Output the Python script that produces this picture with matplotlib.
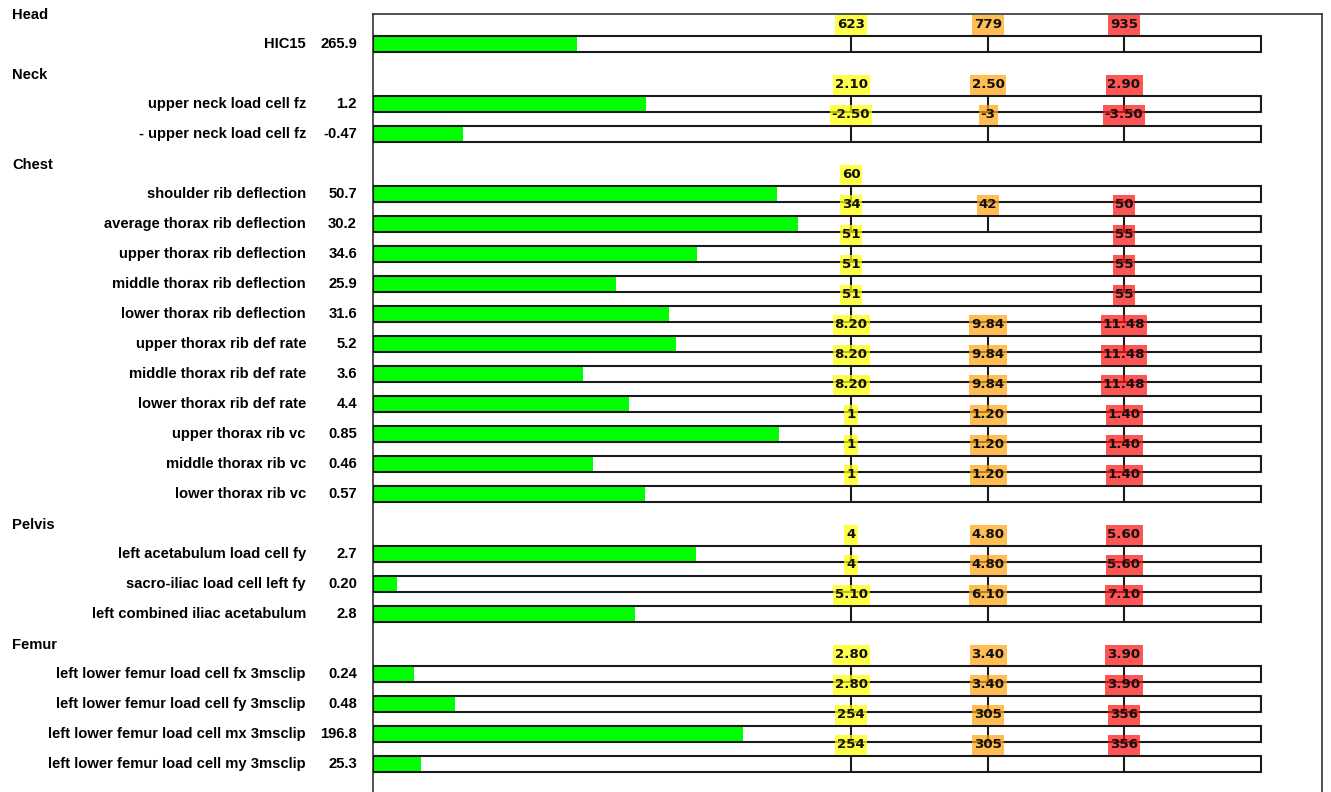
import matplotlib
matplotlib.use("Agg")
import matplotlib.pyplot as plt
import numpy as np
from matplotlib.transforms import blended_transform_factory
from matplotlib.patches import Rectangle

# ---------------- data ----------------
sections = ["Head", "Neck", "Chest", "Pelvis", "Femur"]
row_section = [0, 1, 1, 2, 2, 2, 2, 2, 2, 2, 2, 2, 2, 2, 3, 3, 3, 4, 4, 4, 4]
names = [
    "HIC15",
    "upper neck load cell fz",
    "- upper neck load cell fz",
    "shoulder rib deflection",
    "average thorax rib deflection",
    "upper thorax rib deflection",
    "middle thorax rib deflection",
    "lower thorax rib deflection",
    "upper thorax rib def rate",
    "middle thorax rib def rate",
    "lower thorax rib def rate",
    "upper thorax rib vc",
    "middle thorax rib vc",
    "lower thorax rib vc",
    "left acetabulum load cell fy",
    "sacro-iliac load cell left fy",
    "left combined iliac acetabulum",
    "left lower femur load cell fx 3msclip",
    "left lower femur load cell fy 3msclip",
    "left lower femur load cell mx 3msclip",
    "left lower femur load cell my 3msclip",
]
value_labels = ["265.9", "1.2", "-0.47", "50.7", "30.2", "34.6", "25.9", "31.6",
                "5.2", "3.6", "4.4", "0.85", "0.46", "0.57", "2.7", "0.20", "2.8",
                "0.24", "0.48", "196.8", "25.3"]
yellow_labels = ["623", "2.10", "-2.50", "60", "34", "51", "51", "51", "8.20", "8.20",
                 "8.20", "1", "1", "1", "4", "4", "5.10", "2.80", "2.80", "254", "254"]
orange_labels = ["779", "2.50", "-3", None, "42", None, None, None, "9.84", "9.84",
                 "9.84", "1.20", "1.20", "1.20", "4.80", "4.80", "6.10", "3.40", "3.40",
                 "305", "305"]
red_labels = ["935", "2.90", "-3.50", None, "50", "55", "55", "55", "11.48", "11.48",
              "11.48", "1.40", "1.40", "1.40", "5.60", "5.60", "7.10", "3.90", "3.90",
              "356", "356"]

# ---------------- layout / style ----------------
W, H, DPI = 1331, 792, 100
ax_left_px, ax_right_px, ax_top_px = 373, 1322, 14
bar_end_px = 1261
slot_px = 30
thr_px = [851, 988, 1124]
bar_h = 16 / slot_px
bar_span = bar_end_px - ax_left_px
thr_pos = [(p - ax_left_px) / bar_span for p in thr_px]
thr_colors = ["#ffff00", "#ffa411", "#ff1414"]
green = "#00ff00"
edge = "#1a1a1a"
label_font = ["Liberation Sans", "DejaVu Sans"]
thr_font = ["DejaVu Sans"]
label_size = 10.6
thr_size = 9.6
box_h_px = 20
box_padx_px = 2

fig = plt.figure(figsize=(W / DPI, H / DPI), dpi=DPI)
ax = fig.add_axes([ax_left_px / W, 0, (ax_right_px - ax_left_px) / W, (H - ax_top_px) / H])
ax.set_xlim(0, (ax_right_px - ax_left_px) / bar_span)
ax.set_ylim((H - ax_top_px) / slot_px, 0)
ax.set_xticks([])
ax.set_yticks([])
for s in ["top", "left", "right"]:
    ax.spines[s].set_color("#333333")
    ax.spines[s].set_linewidth(1.2)
ax.spines["bottom"].set_visible(False)

trans = blended_transform_factory(fig.transFigure, ax.transData)
px_per_x = bar_span  # pixels per x data unit

thr_texts = []
y = 0
prev_sec = None
for i, name in enumerate(names):
    sec = row_section[i]
    if sec != prev_sec:
        ax.text(12 / W, y + 0.03, sections[sec], transform=trans, ha="left", va="center",
                fontsize=label_size, fontweight="bold", family=label_font, clip_on=False)
        y += 1
        prev_sec = sec
    ax.text(306 / W, y, name, transform=trans, ha="right", va="center",
            fontsize=label_size, fontweight="bold", family=label_font, clip_on=False)
    ax.text(357 / W, y, value_labels[i], transform=trans, ha="right", va="center",
            fontsize=label_size, fontweight="bold", family=label_font, clip_on=False)

    thr_lbls = [yellow_labels[i], orange_labels[i], red_labels[i]]
    xs = [0.0]
    ps = [0.0]
    for lbl, p in zip(thr_lbls, thr_pos):
        if lbl is not None:
            xs.append(abs(float(lbl)))
            ps.append(p)
    v = abs(float(value_labels[i]))
    length = float(np.interp(v, xs, ps))
    if v > xs[-1]:
        length = ps[-1] + (v - xs[-1]) * (ps[-1] - ps[-2]) / (xs[-1] - xs[-2])
    length = min(length, 1.0)

    ax.add_patch(Rectangle((0, y - bar_h / 2), length, bar_h, facecolor=green,
                           edgecolor="none", zorder=2))
    ax.add_patch(Rectangle((0, y - bar_h / 2), 1.0, bar_h, facecolor="none",
                           edgecolor=edge, linewidth=1.5, zorder=3))
    for lbl, p, c in zip(thr_lbls, thr_pos, thr_colors):
        if lbl is None:
            continue
        ax.plot([p, p], [y - bar_h / 2, y + bar_h / 2], color=edge, lw=1.5, zorder=3,
                solid_capstyle="butt")
        yc = y - 19.5 / slot_px
        t = ax.text(p, yc, lbl, ha="center", va="center", fontsize=thr_size,
                    fontweight="bold", family=thr_font, color="#111111", zorder=5)
        thr_texts.append((t, p, yc, c))
    y += 1

# background boxes sized from the rendered text
fig.canvas.draw()
renderer = fig.canvas.get_renderer()
for t, p, yc, c in thr_texts:
    bb = t.get_window_extent(renderer)
    wpx = bb.width + 2 * box_padx_px
    wd = wpx / px_per_x
    hd = box_h_px / slot_px
    ax.add_patch(Rectangle((p - wd / 2, yc - hd / 2), wd, hd, facecolor=c,
                           edgecolor="none", alpha=0.72, zorder=4))

fig.savefig("out.png", dpi=DPI)
